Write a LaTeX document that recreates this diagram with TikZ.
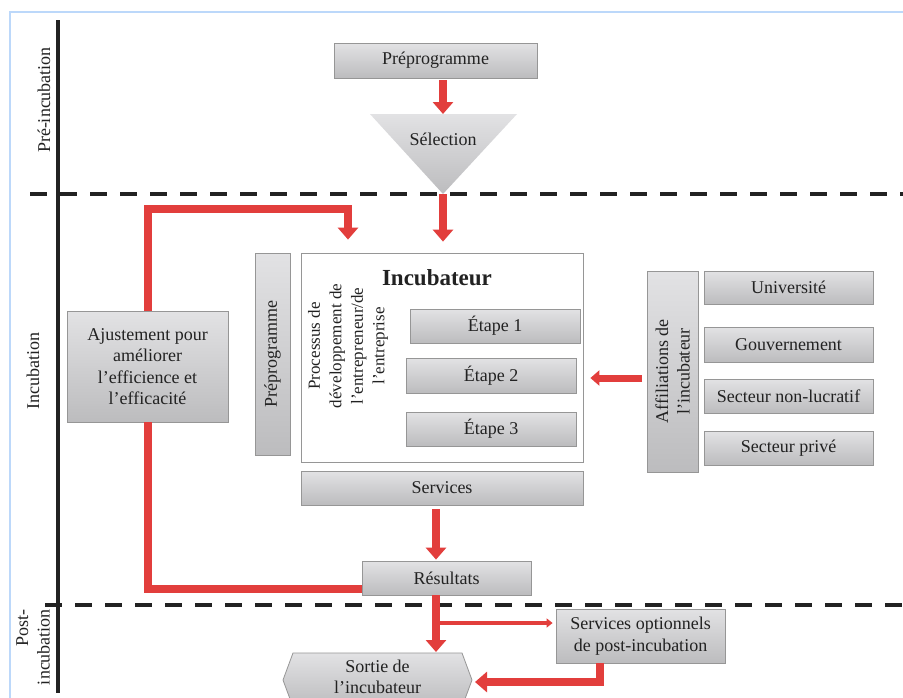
\documentclass[tikz,border=0pt]{standalone}
\usepackage{fontspec}
\setmainfont{Liberation Serif}
\usetikzlibrary{arrows.meta}
\definecolor{redarr}{RGB}{226,62,60}
\definecolor{boxtop}{RGB}{226,226,228}
\definecolor{boxbot}{RGB}{188,188,190}
\definecolor{boxline}{RGB}{150,150,150}
\definecolor{frameblue}{RGB}{188,216,250}
\definecolor{ink}{RGB}{34,34,34}
\begin{document}
\begin{tikzpicture}[x=1pt,y=-1pt,
  txt/.style={font=\fontsize{18}{21.5}\selectfont, text=ink, align=center, inner sep=0pt},
  gbox/.style={txt, draw=boxline, line width=0.8pt, top color=boxtop, bottom color=boxbot},
  bigarrow/.style={draw=redarr, line width=8pt, line join=miter, -{Triangle[width=20pt,length=12pt]}},
  medarrow/.style={draw=redarr, line width=7pt, -{Triangle[width=15pt,length=9pt]}},
  thinarrow/.style={draw=redarr, line width=4pt, -{Triangle[width=9pt,length=6pt]}},
  redline/.style={draw=redarr, line width=8pt, line join=miter},
  phase/.style={draw=ink, line width=4.5pt, dash pattern=on 17pt off 13pt}
]
\useasboundingbox (0,0) rectangle (903,697);
\clip (0,0) rectangle (903,697);
\fill[white] (0,0) rectangle (903,697);

% frame
\draw[frameblue, line width=2pt] (10,700) -- (10,12) -- (905,12);

% phase separators
\draw[ink, line width=3.5pt] (58,20) -- (58,693);
\draw[phase] (30,194) -- (903,194);
\draw[phase] (45,605) -- (903,605);

% phase labels
\node[txt, rotate=90] (lpre) at (44,100) {Pré-incubation};
\node[txt, rotate=90] (linc) at (33,371) {Incubation};
\node[txt, rotate=90, align=right] (lpost) at (33,647) {Post-\\incubation};

% top
\node[gbox, minimum width=203pt, minimum height=35pt] (pre) at (435.5,60.5) {Préprogramme};
\shade[top color=boxtop, bottom color=boxbot] (370,114) -- (517,114) -- (443,194) -- cycle;
\coordinate (seltop) at (443,114);
\coordinate (selapex) at (443,194);
\node[txt] (sel) at (443,139) {Sélection};

% incubator
\node[draw=boxline, line width=0.8pt, fill=white, minimum width=282pt, minimum height=209pt] (inc) at (442,357.5) {};
\node[txt, font=\fontsize{23}{26}\selectfont\bfseries] (inctitle) at (437,278) {Incubateur};
\node[txt, rotate=90, font=\fontsize{17}{21.5}\selectfont] (proc) at (348,346) {Processus de\\développement de\\l’entrepreneur/de\\l’entreprise};
\node[gbox, minimum width=170pt, minimum height=34pt] (et1) at (495,326) {Étape 1};
\node[gbox, minimum width=170pt, minimum height=35pt] (et2) at (491,375.5) {Étape 2};
\node[gbox, minimum width=170pt, minimum height=34pt] (et3) at (491,429) {Étape 3};

\node[gbox, rotate=90, minimum width=202pt, minimum height=35pt] (prev) at (272.5,354) {Préprogramme};
\node[gbox, minimum width=282pt, minimum height=34pt] (serv) at (442,488) {Services};
\node[gbox, minimum width=169pt, minimum height=34pt] (res) at (446.5,578) {Résultats};
\node[gbox, minimum width=161pt, minimum height=111pt] (adj) at (147.5,366.5) {Ajustement pour\\améliorer\\l’efficience et\\l’efficacité};

% affiliations
\node[gbox, rotate=90, minimum width=201pt, minimum height=51pt] (aff) at (672.5,371.5) {Affiliations de\\l’incubateur};
\node[gbox, minimum width=169pt, minimum height=33pt] (univ) at (788.5,287.5) {Université};
\node[gbox, minimum width=169pt, minimum height=35pt] (gouv) at (788.5,344.5) {Gouvernement};
\node[gbox, minimum width=169pt, minimum height=34pt] (snl) at (788.5,396) {Secteur non-lucratif};
\node[gbox, minimum width=169pt, minimum height=34pt] (spriv) at (788.5,448) {Secteur privé};

% post incubation
\node[gbox, minimum width=169pt, minimum height=54pt] (sopt) at (640.5,636) {Services optionnels\\de post-incubation};
\shade[top color=boxtop, bottom color=boxbot, draw=boxline, line width=0.8pt]
  (293,653) -- (462,653) -- (472,680) -- (462,707) -- (293,707) -- (283,680) -- cycle;
\node[txt] (sortie) at (377.5,677) {Sortie de\\l’incubateur};
\coordinate (sortieR) at (472,680);
\coordinate (sortieT) at (436,653);

% connectors
\coordinate (axis) at (436,0);
\draw[bigarrow, shorten <=2pt] (pre.south -| seltop) -- (seltop);
\draw[bigarrow, shorten >=11pt] (selapex) -- (selapex |- inc.north);
\coordinate (lpA) at (148,209);
\coordinate (lpB) at (348,209);
\draw[bigarrow, shorten >=13pt] (adj.north -| lpA) -- (lpA) -- (lpB) -- (lpB |- inc.north);
\coordinate (lpC) at (148,589);
\draw[redline] (adj.south -| lpC) -- (lpC) -- (lpC -| res.west);
\coordinate (affarr) at (642,378);
\draw[medarrow, shorten >=7pt] (affarr) -- (affarr -| inc.east);
\draw[bigarrow, shorten <=4pt, shorten >=1pt] (serv.south -| axis) -- (res.north -| axis);
\draw[bigarrow, shorten >=1pt] (res.south -| axis) -- (sortieT);
\coordinate (br) at (436,623);
\draw[thinarrow, shorten >=3pt] (br) -- (br -| sopt.west);
\coordinate (sobend) at (600,682);
\draw[bigarrow, shorten >=3pt] (sopt.south -| sobend) -- (sobend) -- (sobend -| sortieR);
\end{tikzpicture}
\end{document}
